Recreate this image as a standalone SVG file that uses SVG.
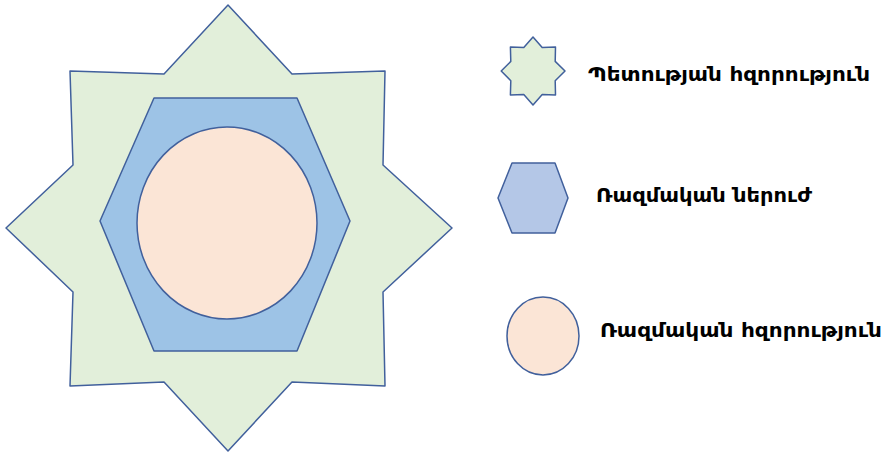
<svg xmlns="http://www.w3.org/2000/svg" width="890" height="454" viewBox="0 0 890 454">
<style>
.sh{stroke:#41609c;stroke-width:1.5;stroke-linejoin:round}
.star{fill:#e2efda}
.hex{fill:#9dc3e6}
.hexl{fill:#b4c7e7}
.circ{fill:#fbe5d6}
.lbl{font-family:"DejaVu Sans","Noto Sans",sans-serif;font-weight:bold;font-size:19px;fill:#000}
</style>
<defs>
<polygon id="starShape" points="0,-223 -64,-154 -158,-157 -155,-63 -222,0 -155,64 -158,158 -64,154 0,223 64,154 157,158 155,64 224,0 155,-63 157,-157 64,-154"/>
</defs>
<g id="state-power">
<use href="#starShape" class="sh star" transform="translate(228,228)"/>
</g>
<g id="military-potential">
<polygon class="sh hex" points="154,98 297,98 350,221 297,351 154,351 100,221"/>
</g>
<g id="military-power">
<ellipse class="sh circ" cx="227" cy="223" rx="90" ry="96"/>
</g>
<g id="legend-state">
<polygon class="sh star" points="533,37 523.8,47.6 510.4,47.1 510.8,61.4 501.2,71 510.8,80.7 510.4,95 523.8,94.4 533,105 542.2,94.4 555.5,95 555.2,80.7 565,71 555.2,61.4 555.5,47.1 542.2,47.6"/>
<text class="lbl" x="588" y="81" textLength="282" lengthAdjust="spacingAndGlyphs">Պետության հզորություն</text>
</g>
<g id="legend-potential">
<polygon class="sh hexl" points="512,163 555,163 568,198 555,233 512,233 498,198"/>
<text class="lbl" x="596" y="202" textLength="216" lengthAdjust="spacingAndGlyphs">Ռազմական ներուժ</text>
</g>
<g id="legend-military">
<ellipse class="sh circ" cx="543" cy="336" rx="36" ry="39"/>
<text class="lbl" x="600" y="337" textLength="282" lengthAdjust="spacingAndGlyphs">Ռազմական հզորություն</text>
</g>
<g id="connectors"/>
</svg>
